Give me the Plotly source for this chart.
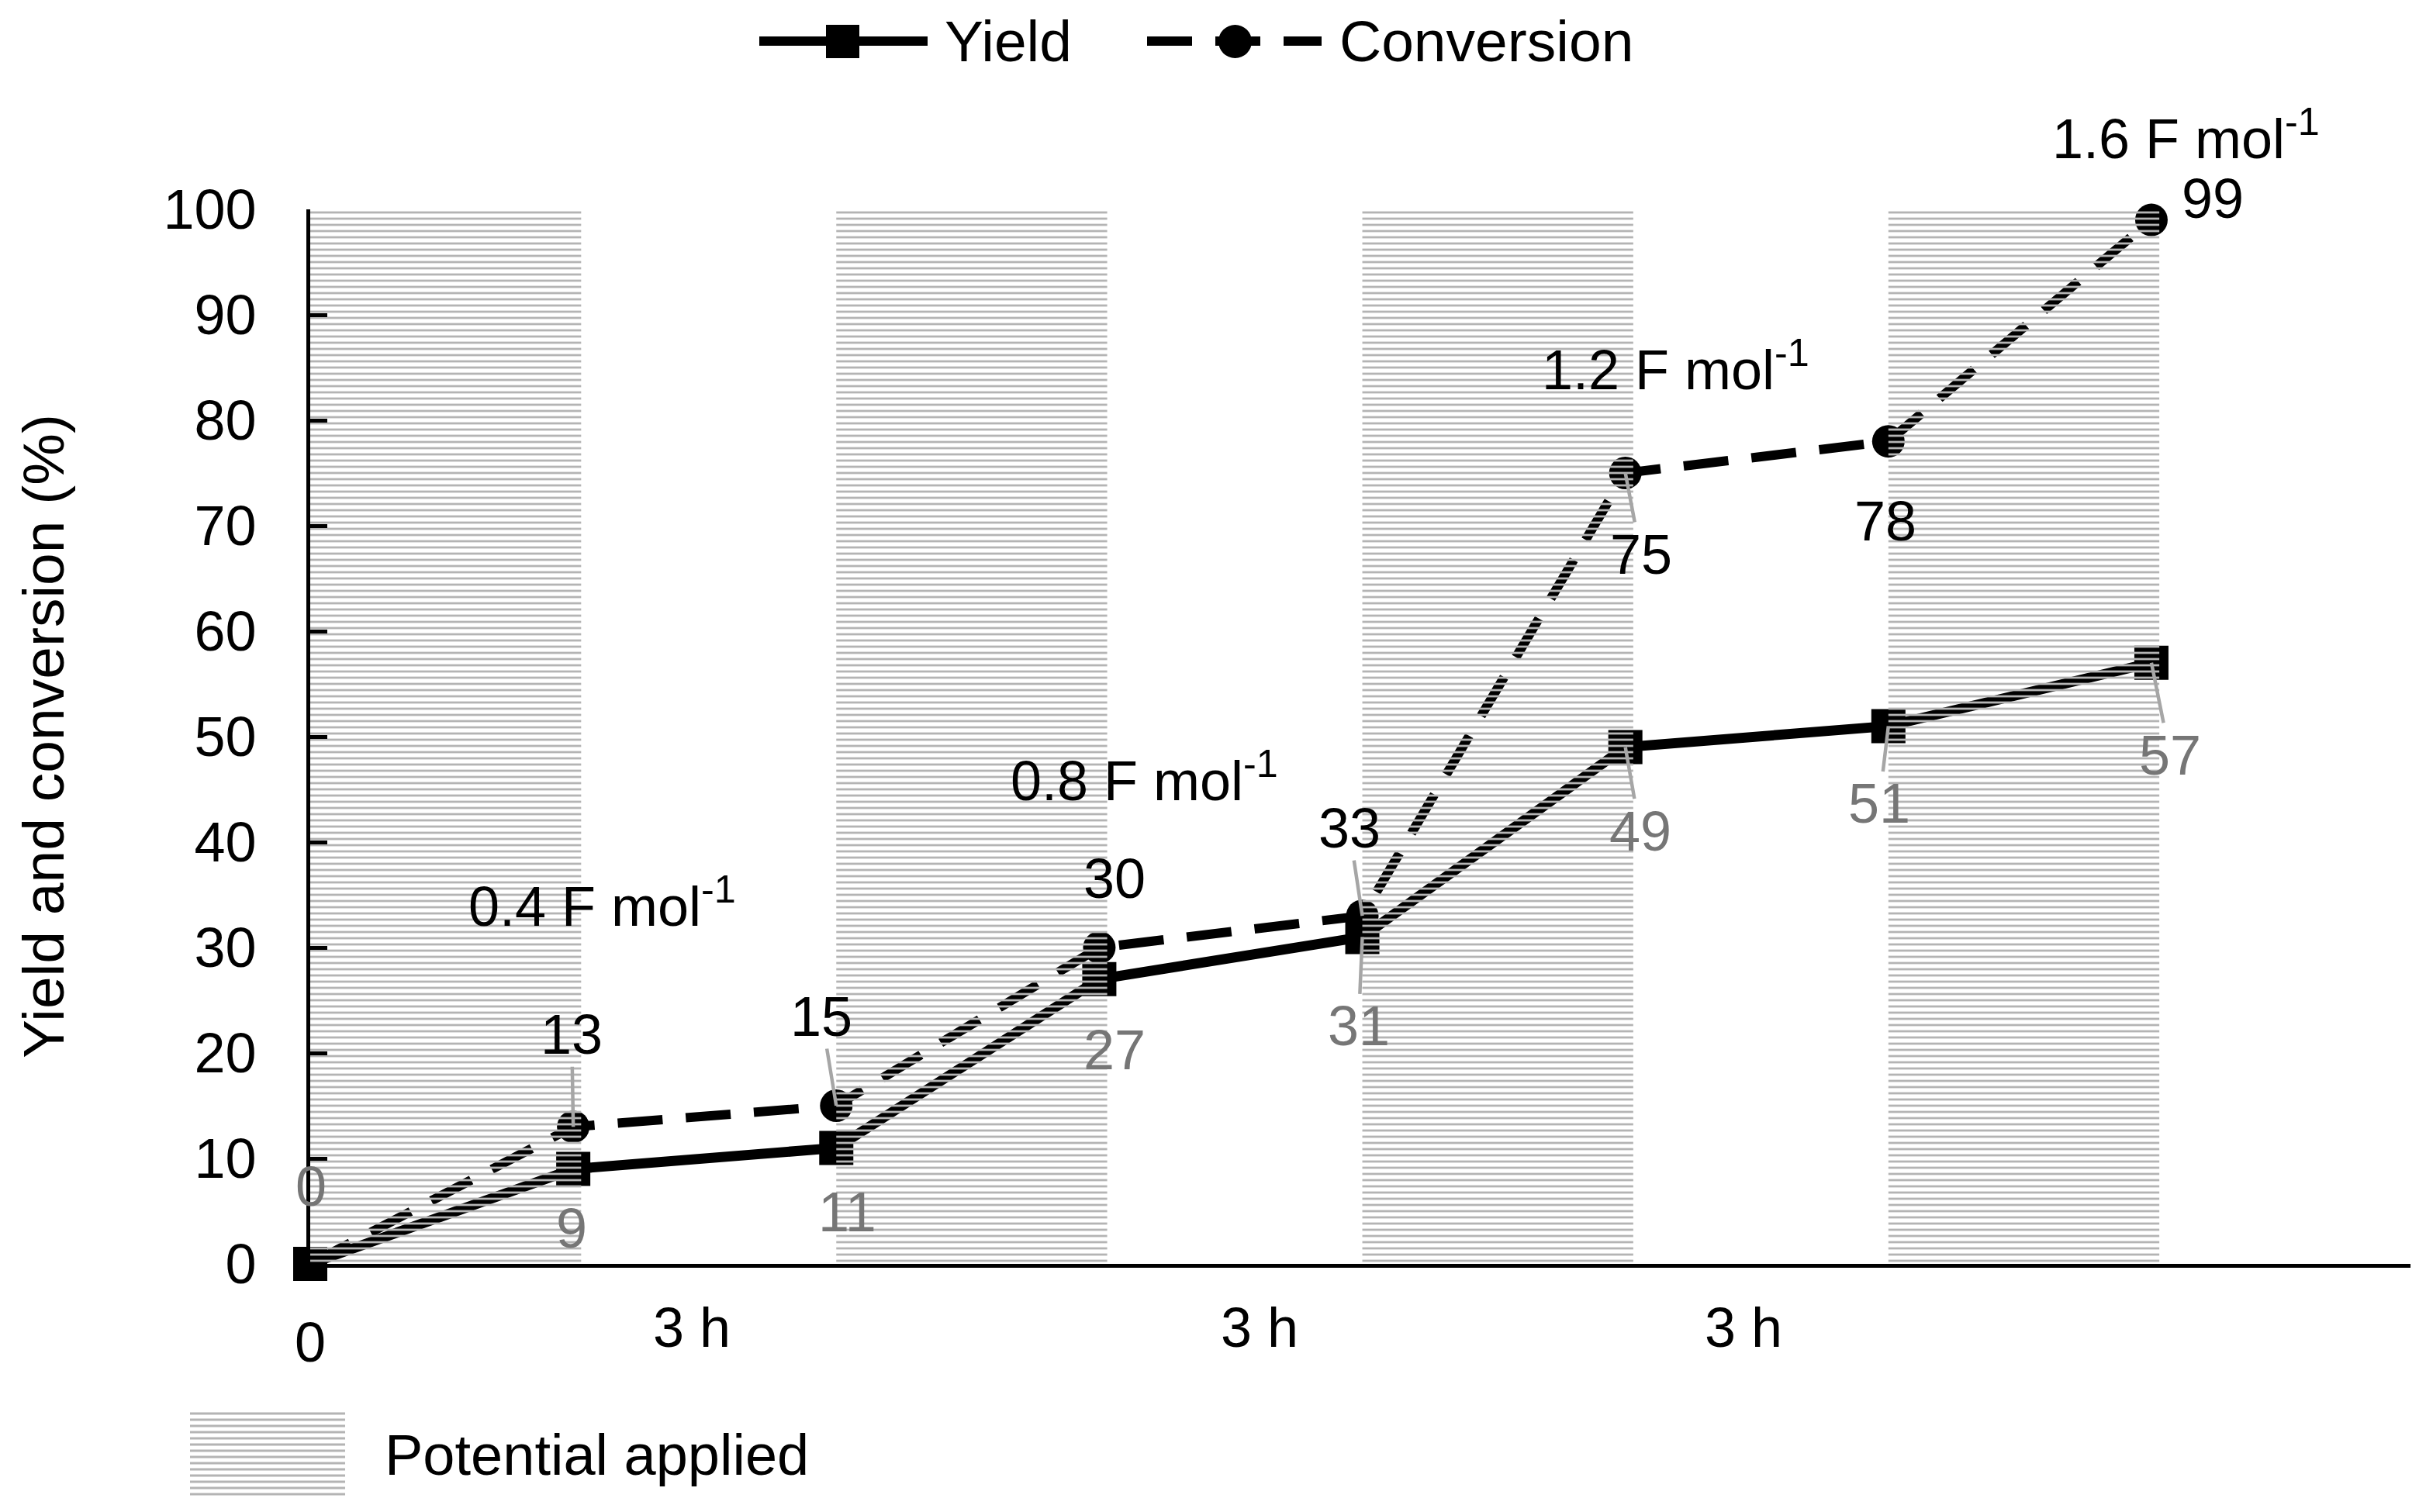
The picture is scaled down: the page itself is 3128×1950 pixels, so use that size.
import plotly.graph_objects as go

# ---------------- data ----------------
steps = [0, 1, 2, 3, 4, 5, 6, 7]
yield_pct = [0, 9, 11, 27, 31, 49, 51, 57]
conversion_pct = [0, 13, 15, 30, 33, 75, 78, 99]

band_start = [0, 2, 4, 6]
band_end = [1.03, 3.03, 5.03, 7.03]
band_top = [100, 100, 100, 100]

charge_labels = ["0.4 F mol<sup>-1</sup>", "0.8 F mol<sup>-1</sup>",
                 "1.2 F mol<sup>-1</sup>", "1.6 F mol<sup>-1</sup>"]
charge_x = [1.11, 3.17, 5.19, 7.13]
charge_y = [34.3, 46.2, 85.2, 107.1]

time_labels = ["3 h", "3 h", "3 h"]
time_x = [1.45, 3.61, 5.45]
time_y = -6.0
origin_label_y = -7.4

y_ticks = [0, 10, 20, 30, 40, 50, 60, 70, 80, 90, 100]

# ---------------- style ----------------
W, H = 3128, 1950
L, R, T, B = 392, 28, 262, 328
PW, PH = W - L - R, H - T - B
FONT = "Arial, Liberation Sans, sans-serif"
GRAY_TXT = "#767676"
LEADER = "#a6a6a6"
XR = [0, 7.985]
YR = [0, 100]

# label offsets (pixels, dx, dy-down, leader shown)
conv_offsets = [None, (-2, -119, True), (-19, -115, True), (20, -89, False),
                (-17, -113, True), (20, 105, True), (-4, 103, False), (79, -28, False)]
yield_offsets = [(1, -100, False), (-2, 76, False), (14, 83, False), (20, 91, False),
                 (-5, 115, True), (19, 108, True), (-12, 100, True), (24, 119, True)]


def px_x(px):
    return (px - L) / PW


def px_y(py):
    return (H - B - py) / PH


def dx_paper(xv):
    return (xv - XR[0]) / (XR[1] - XR[0])


def dy_paper(yv):
    return (yv - YR[0]) / (YR[1] - YR[0])


def data_label(xv, yv, text, off, color):
    dx, dy, lead = off
    base = dict(x=xv, y=yv, xref="x", yref="y", text=text,
                font=dict(family=FONT, size=72, color=color))
    if lead:
        base.update(showarrow=True, ax=dx, ay=dy, arrowhead=0, arrowwidth=4.5,
                    standoff=0, arrowcolor=LEADER)
    else:
        base.update(showarrow=False, xshift=dx, yshift=-dy,
                    xanchor="center", yanchor="middle")
    return base


fig = go.Figure()

fig.add_trace(go.Scatter(
    x=steps, y=conversion_pct, mode="lines+markers", name="Conversion",
    line=dict(color="black", width=12, dash="58px,30px"),
    marker=dict(symbol="circle", size=42, color="black"),
    cliponaxis=False, showlegend=False, hoverinfo="skip"))

fig.add_trace(go.Scatter(
    x=steps, y=yield_pct, mode="lines+markers", name="Yield",
    line=dict(color="black", width=13),
    marker=dict(symbol="square", size=44, color="black"),
    cliponaxis=False, showlegend=False, hoverinfo="skip"))

fig.add_trace(go.Bar(
    x=band_start, y=band_top, base=0, offset=0,
    width=[e - s for s, e in zip(band_start, band_end)],
    marker=dict(color="rgba(0,0,0,0)", line=dict(width=0),
                pattern=dict(shape="-", size=8, solidity=0.35,
                             fgcolor="#b4b4b4", bgcolor="rgba(0,0,0,0)",
                             fillmode="replace")),
    xaxis="x2", yaxis="y2", showlegend=False, hoverinfo="skip",
    name="Potential applied"))

annotations = []

# data labels
for i, v in enumerate(conversion_pct):
    if conv_offsets[i] is None:
        continue
    annotations.append(data_label(steps[i], v, str(v), conv_offsets[i], "black"))
for i, v in enumerate(yield_pct):
    annotations.append(data_label(steps[i], v, str(v), yield_offsets[i], GRAY_TXT))

# charge annotations (paper coords so they can sit outside the axis range)
for t, cx, cy in zip(charge_labels, charge_x, charge_y):
    annotations.append(dict(x=dx_paper(cx), y=dy_paper(cy), xref="paper", yref="paper",
                            text=t, showarrow=False, xanchor="center", yanchor="middle",
                            font=dict(family=FONT, size=72, color="black")))

# time labels below the axis
for t, tx in zip(time_labels, time_x):
    annotations.append(dict(x=dx_paper(tx), y=dy_paper(time_y), xref="paper", yref="paper",
                            text=t, showarrow=False, xanchor="center", yanchor="middle",
                            font=dict(family=FONT, size=72, color="black")))
annotations.append(dict(x=dx_paper(0), y=dy_paper(origin_label_y), xref="paper", yref="paper",
                        text="0", showarrow=False, xanchor="center", yanchor="middle",
                        font=dict(family=FONT, size=72, color="black")))

# y-axis title
annotations.append(dict(x=px_x(48), y=0.5, xref="paper", yref="paper",
                        text="Yield and conversion (%)", textangle=-90, showarrow=False,
                        xanchor="center", yanchor="middle",
                        font=dict(family=FONT, size=75, color="black")))

# custom legend texts
annotations.append(dict(x=px_x(1208), y=px_y(45), xref="paper", yref="paper", text="Yield",
                        xanchor="left", yanchor="middle", showarrow=False,
                        font=dict(family=FONT, size=75, color="black")))
annotations.append(dict(x=px_x(1717), y=px_y(45), xref="paper", yref="paper", text="Conversion",
                        xanchor="left", yanchor="middle", showarrow=False,
                        font=dict(family=FONT, size=75, color="black")))
annotations.append(dict(x=px_x(486), y=px_y(1868), xref="paper", yref="paper",
                        text="Potential applied", xanchor="left", yanchor="middle",
                        showarrow=False,
                        font=dict(family=FONT, size=74, color="black")))

shapes = []
# legend samples
ly = px_y(45)
shapes.append(dict(type="line", xref="paper", yref="paper", x0=px_x(971), x1=px_x(1188),
                   y0=ly, y1=ly, line=dict(color="black", width=12)))
shapes.append(dict(type="rect", xref="paper", yref="paper", x0=px_x(1057), x1=px_x(1100),
                   y0=px_y(67), y1=px_y(24), fillcolor="black", line=dict(width=0)))
shapes.append(dict(type="line", xref="paper", yref="paper", x0=px_x(1471), x1=px_x(1696),
                   y0=ly, y1=ly, line=dict(color="black", width=12, dash="58px,30px")))
shapes.append(dict(type="circle", xref="paper", yref="paper", x0=px_x(1563), x1=px_x(1606),
                   y0=px_y(67), y1=px_y(24), fillcolor="black", line=dict(width=0)))
# legend swatch for hatched bands
path = ""
yy = 1815
while yy <= 1920:
    path += "M{:.5f},{:.5f} L{:.5f},{:.5f} ".format(px_x(237), px_y(yy), px_x(437), px_y(yy))
    yy += 8
shapes.append(dict(type="path", xref="paper", yref="paper", path=path,
                   line=dict(color="#b4b4b4", width=2.8)))

fig.update_layout(
    width=W, height=H, autosize=False,
    margin=dict(l=L, r=R, t=T, b=B, pad=0),
    paper_bgcolor="white", plot_bgcolor="white",
    template="none", barmode="overlay",
    font=dict(family=FONT, size=72, color="black"),
    xaxis=dict(range=XR, showline=True, linewidth=5, linecolor="black",
               ticks="", showticklabels=False, showgrid=False, zeroline=False,
               fixedrange=True),
    yaxis=dict(range=YR, tickvals=y_ticks, ticks="inside", ticklen=22,
               tickwidth=5, tickcolor="black", showline=True, linewidth=5,
               linecolor="black", showgrid=False, zeroline=False,
               tickfont=dict(family=FONT, size=72, color="black"),
               ticklabelstandoff=50, fixedrange=True),
    xaxis2=dict(range=XR, overlaying="x", visible=False, fixedrange=True),
    yaxis2=dict(range=YR, overlaying="y", visible=False, fixedrange=True),
    annotations=annotations, shapes=shapes, showlegend=False,
)

fig.write_html("out.html")
